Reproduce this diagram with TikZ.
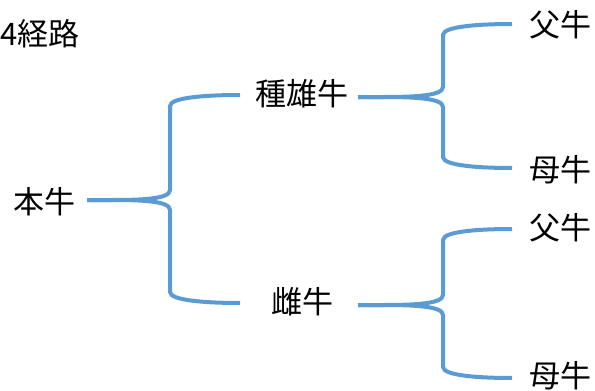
\documentclass[tikz,border=0pt]{standalone}
\usepackage{fontspec}
\setmainfont{Noto Sans CJK JP}
\definecolor{bracecol}{HTML}{5B9BD5}
\begin{document}
\begin{tikzpicture}[x=1pt,y=-1pt,
  lbl/.style={inner sep=0pt,font=\fontsize{31}{31}\selectfont},
  brace/.style={draw=bracecol,line width=4pt,line cap=butt}]
\useasboundingbox (0,0) rectangle (595,391);
\node[lbl,anchor=west] (title) at (0,34) {4経路};
\node[lbl] (hon) at (44,202) {本牛};
\node[lbl] (shu) at (302,94) {種雄牛};
\node[lbl] (shi) at (302,302) {雌牛};
\node[lbl] (f1) at (560,25) {父牛};
\node[lbl] (m1) at (560,170) {母牛};
\node[lbl] (f2) at (560,228) {父牛};
\node[lbl] (m2) at (560,376) {母牛};
% brace anchors
\coordinate (t0) at (87,200);
\coordinate (a0) at (240,95);
\coordinate (b0) at (240,303);
\coordinate (t1) at (358,97);
\coordinate (a1) at (512,24);
\coordinate (b1) at (512,168);
\coordinate (t2) at (358,305);
\coordinate (a2) at (512,229);
\coordinate (b2) at (512,378);
% left brace
\draw[brace] (t0) -- ++(25,0) .. controls +(30,0) and +(0,9) .. (170,190) -- (170,106) .. controls +(0,-9) and +(-30,0) .. (a0);
\draw[brace] (t0) -- ++(25,0) .. controls +(30,0) and +(0,-9) .. (170,210) -- (170,292) .. controls +(0,9) and +(-30,0) .. (b0);
% upper right brace
\draw[brace] (t1) -- ++(25,0) .. controls +(30,0) and +(0,9) .. (443,87) -- (443,35) .. controls +(0,-9) and +(-30,0) .. (a1);
\draw[brace] (t1) -- ++(25,0) .. controls +(30,0) and +(0,-9) .. (443,107) -- (443,157) .. controls +(0,9) and +(-30,0) .. (b1);
% lower right brace
\draw[brace] (t2) -- ++(25,0) .. controls +(30,0) and +(0,9) .. (443,295) -- (443,240) .. controls +(0,-9) and +(-30,0) .. (a2);
\draw[brace] (t2) -- ++(25,0) .. controls +(30,0) and +(0,-9) .. (443,315) -- (443,367) .. controls +(0,9) and +(-30,0) .. (b2);
\end{tikzpicture}
\end{document}
